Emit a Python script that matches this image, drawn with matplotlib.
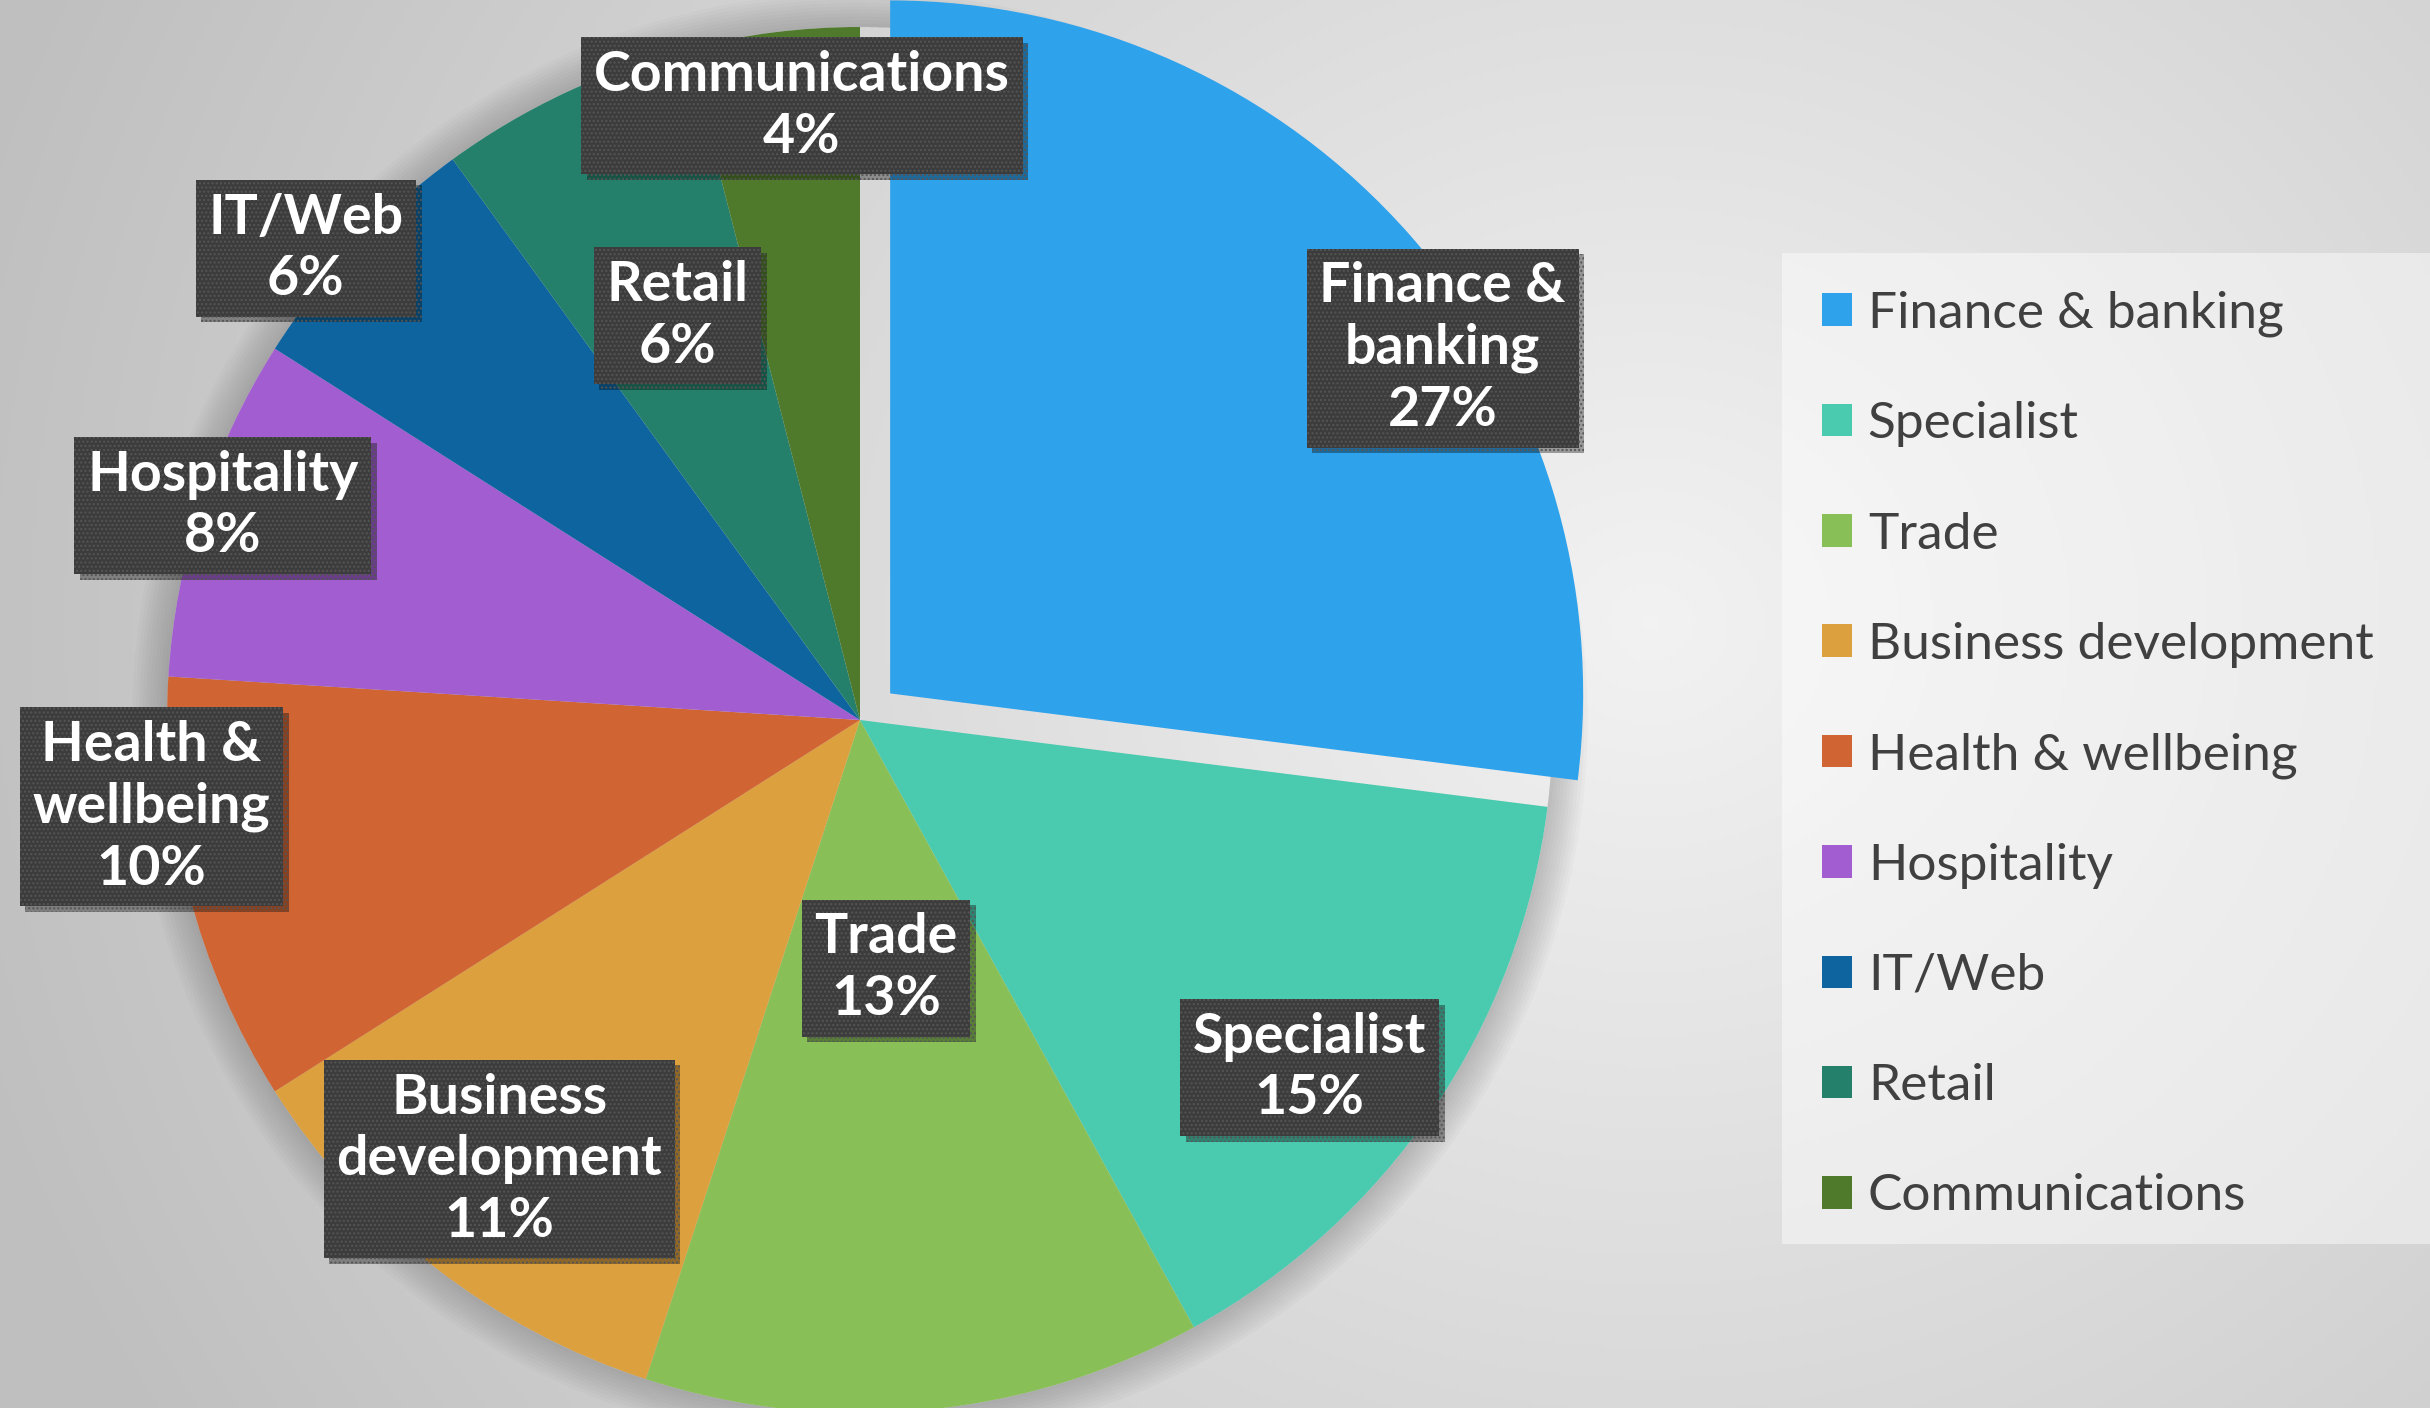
import numpy as np
import matplotlib
matplotlib.use('Agg')
import matplotlib.pyplot as plt
import matplotlib.patheffects as pe
from matplotlib.patches import Patch, Wedge, Rectangle

plt.rcParams['font.family'] = ['Lato', 'DejaVu Sans']

## data
sectors = ["Finance & banking", "Specialist", "Trade", "Business development",
           "Health & wellbeing", "Hospitality", "IT/Web", "Retail", "Communications"]
label_names = ["Finance &\nbanking", "Specialist", "Trade", "Business\ndevelopment",
               "Health &\nwellbeing", "Hospitality", "IT/Web", "Retail", "Communications"]
shares = [27, 15, 13, 11, 10, 8, 6, 6, 4]
colors = ["#2FA2EC", "#4ACAAE", "#88C057", "#DCA03F", "#D06433",
          "#A25ED1", "#0D649F", "#24806B", "#4F7A2C"]

# label placement (radius factor, angle nudge in deg from slice middle)
label_r = [0.94, 0.82, 0.36, 0.82, 1.03, 0.97, 1.05, 0.64, 0.89]
label_nudge = [-9.4, -3.5, 0.6, -1.6, -7.4, -0.6, 2.8, -0.9, -1.8]
explode = [0.058, 0, 0, 0, 0, 0, 0, 0, 0]

W, H = 2430, 1408
R = 693.0
cx_px, cy_px = 860, 720

fig = plt.figure(figsize=(W / 100, H / 100), dpi=100)
ax = fig.add_axes([0, 0, 1, 1])
xlim = (-cx_px / R, (W - cx_px) / R)
ylim = (-(H - cy_px) / R, cy_px / R)

# radial grey background
yy, xx = np.mgrid[0:H:4, 0:W:4]
d = np.hypot(xx - 1650, (yy - 620) * 1.1) / 1750.0
bg = np.clip(0.95 - 0.2 * d, 0.75, 0.95)
ax.imshow(np.dstack([bg, bg, bg]), extent=(xlim[0], xlim[1], ylim[0], ylim[1]),
          origin='upper', zorder=0, aspect='auto')

# soft shadow ring round the pie (outside only)
for i in range(1, 11):
    ax.add_patch(Wedge((0, 0), 1.0 + 0.005 * i, 0, 360, width=0.005 * i,
                       color='#606060', alpha=0.035, lw=0, zorder=1))

wedges, _ = ax.pie(shares, colors=colors, startangle=90, counterclock=False,
                   explode=explode, radius=1.0, wedgeprops=dict(linewidth=0))
for w in wedges:
    w.set_zorder(2)

# data labels
total = float(sum(shares))
start = 90.0
for i, (val, name) in enumerate(zip(shares, label_names)):
    span = 360.0 * val / total
    mid = start - span / 2
    start -= span
    a = np.deg2rad(mid + label_nudge[i])
    mid_r = np.deg2rad(mid)
    x = label_r[i] * np.cos(a) + explode[i] * np.cos(mid_r)
    y = label_r[i] * np.sin(a) + explode[i] * np.sin(mid_r)
    t = ax.text(x, y, "%s\n%d%%" % (name, val), ha='center', va='center',
                ma='center', fontsize=40, fontweight='bold', color='white',
                linespacing=1.28, zorder=5,
                bbox=dict(boxstyle='square,pad=0.23', facecolor='#3C3C3C',
                          edgecolor='#555555', linewidth=0, hatch='....'))
    t.get_bbox_patch().set_path_effects([
        pe.withSimplePatchShadow(offset=(4, -4), shadow_rgbFace='black', alpha=0.35)])

ax.set_xlim(*xlim)
ax.set_ylim(*ylim)
ax.set_aspect('auto')
ax.axis('off')

# legend panel
fig.patches.append(Rectangle((1782 / W, 1 - 1244 / H), (W - 1782) / W, (1244 - 253) / H,
                             transform=fig.transFigure, facecolor='white', alpha=0.45,
                             lw=0, zorder=3))
handles = [Patch(facecolor=c, edgecolor='none') for c in colors]
leg = fig.legend(handles, sectors, loc='upper left',
                 bbox_to_anchor=(1801 / W, 1 - 270 / H), frameon=False,
                 fontsize=37, labelcolor='#404040', handlelength=0.6,
                 handleheight=0.6, handletextpad=0.3, labelspacing=1.25,
                 borderaxespad=0)
leg.set_zorder(6)

fig.savefig('out.png', dpi=100)
